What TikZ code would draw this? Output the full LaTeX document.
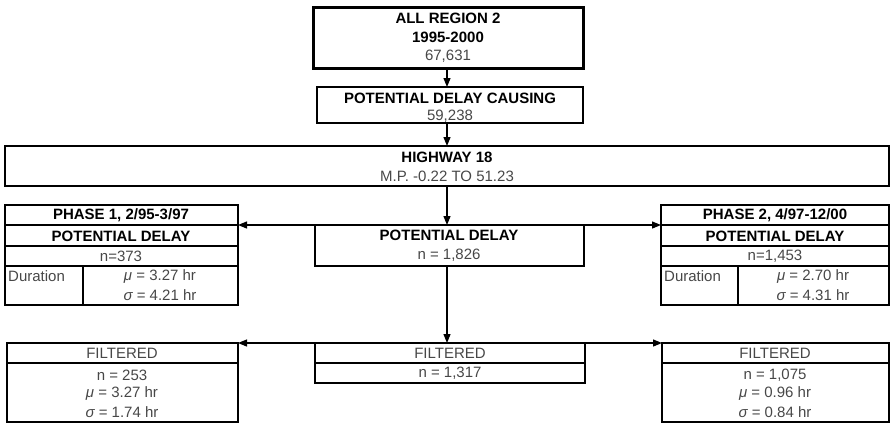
\documentclass[tikz,border=0pt]{standalone}
\usepackage{fontspec}
\setmainfont{Liberation Sans}
\usetikzlibrary{arrows.meta}
\begin{document}
\begin{tikzpicture}[x=1pt,y=-1pt,
  box/.style={draw, line width=2pt, inner sep=0pt, outer sep=0pt, anchor=north west},
  bt/.style={font=\fontsize{15}{17}\selectfont\bfseries, inner sep=0pt},
  rt/.style={font=\fontsize{15}{17}\selectfont, text=black!72, inner sep=0pt},
  arr/.style={-{Triangle[length=9pt,width=7pt]}, line width=1.2pt},
  rowline/.style={line width=2pt}]
\useasboundingbox (0,0) rectangle (891,424);

% boxes
\node[box, line width=3pt, minimum width=270pt, minimum height=61pt] (all) at (313,7) {};
\node[box, minimum width=266pt, minimum height=36pt] (pdc) at (317,87) {};
\node[box, minimum width=884pt, minimum height=40pt] (hw) at (5,146) {};
\node[box, minimum width=269pt, minimum height=41pt] (pd) at (315,225) {};
\node[box, minimum width=233pt, minimum height=100pt] (p1) at (5,205) {};
\node[box, minimum width=228pt, minimum height=100pt] (p2) at (661,205) {};
\node[box, minimum width=231pt, minimum height=79pt] (fl) at (7,343) {};
\node[box, minimum width=270pt, minimum height=40pt] (fc) at (315,343) {};
\node[box, minimum width=227pt, minimum height=79pt] (fr) at (662,343) {};

% row lines
\draw[rowline] (5,225) -- (238,225) (5,246) -- (238,246) (5,266) -- (238,266) (83,266) -- (83,305);
\draw[rowline] (661,225) -- (889,225) (661,246) -- (889,246) (661,266) -- (889,266) (738,266) -- (738,305);
\draw[rowline] (7,363) -- (238,363);
\draw[rowline] (315,363) -- (585,363);
\draw[rowline] (662,363) -- (889,363);

% texts
\node[bt] (t1) at (448,18) {ALL REGION 2};
\node[bt] (t2) at (448,37) {1995-2000};
\node[rt] (t3) at (448,56) {67,631};
\node[bt] (t4) at (450,98) {POTENTIAL DELAY CAUSING};
\node[rt] (t5) at (450,116) {59,238};
\node[bt] (t6) at (447,157) {HIGHWAY 18};
\node[rt] (t7) at (447,176) {M.P. -0.22 TO 51.23};
\node[bt] (t8) at (449,235) {POTENTIAL DELAY};
\node[rt] (t9) at (449,255) {n = 1,826};

\node[bt] (a1) at (121,215) {PHASE 1, 2/95-3/97};
\node[bt] (a2) at (121,236) {POTENTIAL DELAY};
\node[rt] (a3) at (121,256) {n=373};
\node[rt, anchor=west] (a4) at (8,276) {Duration};
\node[rt] (a5) at (160,276) {{\itshape μ} = 3.27 hr};
\node[rt] (a6) at (160,295) {{\itshape σ} = 4.21 hr};

\node[bt] (b1) at (775,215) {PHASE 2, 4/97-12/00};
\node[bt] (b2) at (775,236) {POTENTIAL DELAY};
\node[rt] (b3) at (775,256) {n=1,453};
\node[rt, anchor=west] (b4) at (664,276) {Duration};
\node[rt] (b5) at (813,276) {{\itshape μ} = 2.70 hr};
\node[rt] (b6) at (813,295) {{\itshape σ} = 4.31 hr};

\node[rt] (c1) at (122,353) {FILTERED};
\node[rt] (c2) at (122,375) {n = 253};
\node[rt] (c3) at (122,393) {{\itshape μ} = 3.27 hr};
\node[rt] (c4) at (122,412) {{\itshape σ} = 1.74 hr};

\node[rt] (d1) at (450,353) {FILTERED};
\node[rt] (d2) at (450,373) {n = 1,317};

\node[rt] (e1) at (775,353) {FILTERED};
\node[rt] (e2) at (775,375) {n = 1,075};
\node[rt] (e3) at (775,393) {{\itshape μ} = 0.96 hr};
\node[rt] (e4) at (775,412) {{\itshape σ} = 0.84 hr};

% connectors
\draw[arr] (all.south -| hw.north) -- (hw.north |- pdc.north);
\draw[arr] (pdc.south -| hw.north) -- (hw.north);
\draw[arr] (hw.south) -- (hw.south |- pd.north);
\draw[arr] (hw.south |- pd.south) -- (hw.south |- fc.north);
\draw[arr] (pd.north west) -- (pd.north west -| p1.east);
\draw[arr] (pd.north east) -- (pd.north east -| p2.west);
\draw[arr] (fc.north west) -- (fl.north east);
\draw[arr] (fc.north east) -- (fr.north west);
\end{tikzpicture}
\end{document}
